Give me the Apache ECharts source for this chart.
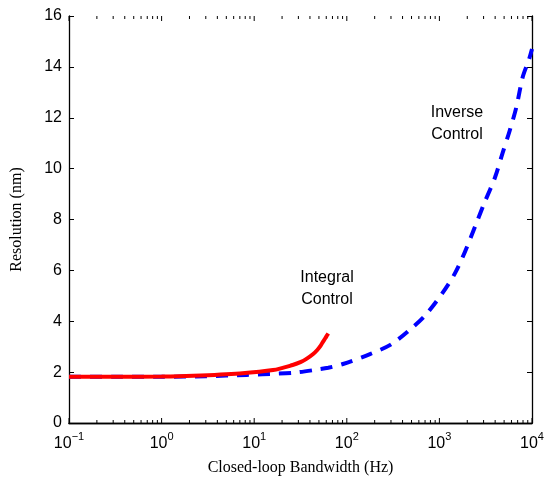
<!DOCTYPE html>
<html><head><meta charset="utf-8">
<script src="https://cdn.jsdelivr.net/npm/echarts@6/dist/echarts.min.js"></script>
<style>html,body{margin:0;padding:0;background:#fff}#c{width:544px;height:486px}</style>
</head><body><div id="c"></div>
<script>
// Data
const inverseX = [0.1, 0.3, 1, 3, 8.3, 18, 29, 48, 63, 91, 178, 295, 457, 740, 1500, 3100, 4000, 4800, 5750, 6760, 7940, 9300, 10000];
const inverseY = [1.82, 1.82, 1.82, 1.84, 1.89, 1.94, 1.99, 2.1, 2.17, 2.32, 2.71, 3.07, 3.6, 4.32, 5.94, 8.7, 9.67, 10.6, 11.5, 12.4, 13.6, 14.3, 14.7];
const integralX = [0.1, 0.3, 1, 2.2, 7, 16, 26, 32, 37, 43, 48, 52, 55, 58.5, 61.5, 63];
const integralY = [1.82, 1.82, 1.83, 1.86, 1.95, 2.08, 2.28, 2.4, 2.53, 2.7, 2.87, 3.03, 3.18, 3.33, 3.46, 3.52];
const yTicks = [0, 2, 4, 6, 8, 10, 12, 14, 16];
const labels = [
  {text: 'Integral\nControl', x: 327, y: 289},
  {text: 'Inverse\nControl', x: 457, y: 124}
];

const minorX = [];
for (let e = -1; e < 4; e++) for (let m = 2; m <= 9; m++) minorX.push(m * Math.pow(10, e));
const majorX = [0.1, 1, 10, 100, 1000, 10000];

const chart = echarts.init(document.getElementById('c'), null, {renderer: 'canvas'});
const axisColor = '#000';
const supFmt = v => {
  const e = Math.round(Math.log10(v));
  return '{b|10}{s|' + (e < 0 ? '\u2212' + (-e) : e) + '}';
};
chart.setOption({
  animation: false,
  backgroundColor: '#fff',
  grid: {left: 69, right: 12, top: 16, bottom: 63, outerBoundsMode: 'none', containLabel: false},
  xAxis: [{
    type: 'log', logBase: 10, min: 0.1, max: 10000,
    name: 'Closed-loop Bandwidth (Hz)', nameLocation: 'middle', nameGap: 37,
    nameTextStyle: {fontFamily: 'Liberation Serif', fontSize: 16, color: '#000'},
    axisLine: {lineStyle: {color: axisColor, width: 1.3}},
    axisTick: {show: false},
    splitLine: {show: false},
    axisLabel: {
      margin: 11, formatter: supFmt,
      rich: {
        b: {fontFamily: 'Liberation Sans', fontSize: 16, color: '#000', verticalAlign: 'bottom', lineHeight: 18},
        s: {fontFamily: 'Liberation Sans', fontSize: 11, color: '#000', verticalAlign: 'bottom', lineHeight: 12, padding: [0, 0, 10, 0]}
      }
    }
  }, {
    type: 'log', logBase: 10, min: 0.1, max: 10000, position: 'top',
    axisLine: {lineStyle: {color: axisColor, width: 1.3}},
    axisTick: {show: false},
    axisLabel: {show: false}, splitLine: {show: false}
  }],
  yAxis: [{
    type: 'value', min: 0, max: 16, interval: 2,
    name: 'Resolution (nm)', nameLocation: 'middle', nameGap: 44, nameRotate: 90,
    nameTextStyle: {fontFamily: 'Liberation Serif', fontSize: 16, color: '#000'},
    axisLine: {show: true, lineStyle: {color: axisColor, width: 1.3}},
    axisTick: {show: true, inside: true, length: 5, lineStyle: {color: axisColor}},
    axisLabel: {fontFamily: 'Liberation Sans', fontSize: 16, color: '#000', margin: 7,
      formatter: v => yTicks.includes(v) ? String(v) : ''},
    splitLine: {show: false}
  }, {
    type: 'value', min: 0, max: 16, interval: 2, position: 'right',
    axisLine: {show: true, lineStyle: {color: axisColor, width: 1.3}},
    axisTick: {show: true, inside: true, length: 5, lineStyle: {color: axisColor}},
    axisLabel: {show: false}, splitLine: {show: false}
  }],
  series: [{
    type: 'line', name: 'Inverse Control', showSymbol: false, smooth: 0.3,
    data: inverseX.map((x, i) => [x, inverseY[i]]),
    lineStyle: {color: '#0000ff', width: 4, type: [12, 9], cap: 'butt'}, z: 3
  }, {
    type: 'line', name: 'Integral Control', showSymbol: false, smooth: 0.3,
    data: integralX.map((x, i) => [x, integralY[i]]),
    lineStyle: {color: '#ff0000', width: 4}, z: 4
  }, {
    type: 'custom', silent: true, z: 5,
    data: minorX.map(v => [v, 3]).concat(majorX.map(v => [v, 5])),
    renderItem: (params, api) => {
      const len = api.value(1);
      const x = api.coord([api.value(0), 0])[0];
      const yb = api.coord([api.value(0), 0])[1];
      const yt = api.coord([api.value(0), 16])[1];
      return {type: 'group', children: [
        {type: 'line', shape: {x1: x, y1: yb, x2: x, y2: yb - len}, style: {stroke: '#000', lineWidth: 1}},
        {type: 'line', shape: {x1: x, y1: yt, x2: x, y2: yt + len}, style: {stroke: '#000', lineWidth: 1}}
      ]};
    }
  }],
  graphic: labels.map(l => ({
    type: 'text', x: l.x, y: l.y, z: 10,
    style: {text: l.text, fontFamily: 'Liberation Sans', fontSize: 16, fill: '#000', align: 'center', verticalAlign: 'middle', lineHeight: 22}
  }))
});
</script>
</body></html>
